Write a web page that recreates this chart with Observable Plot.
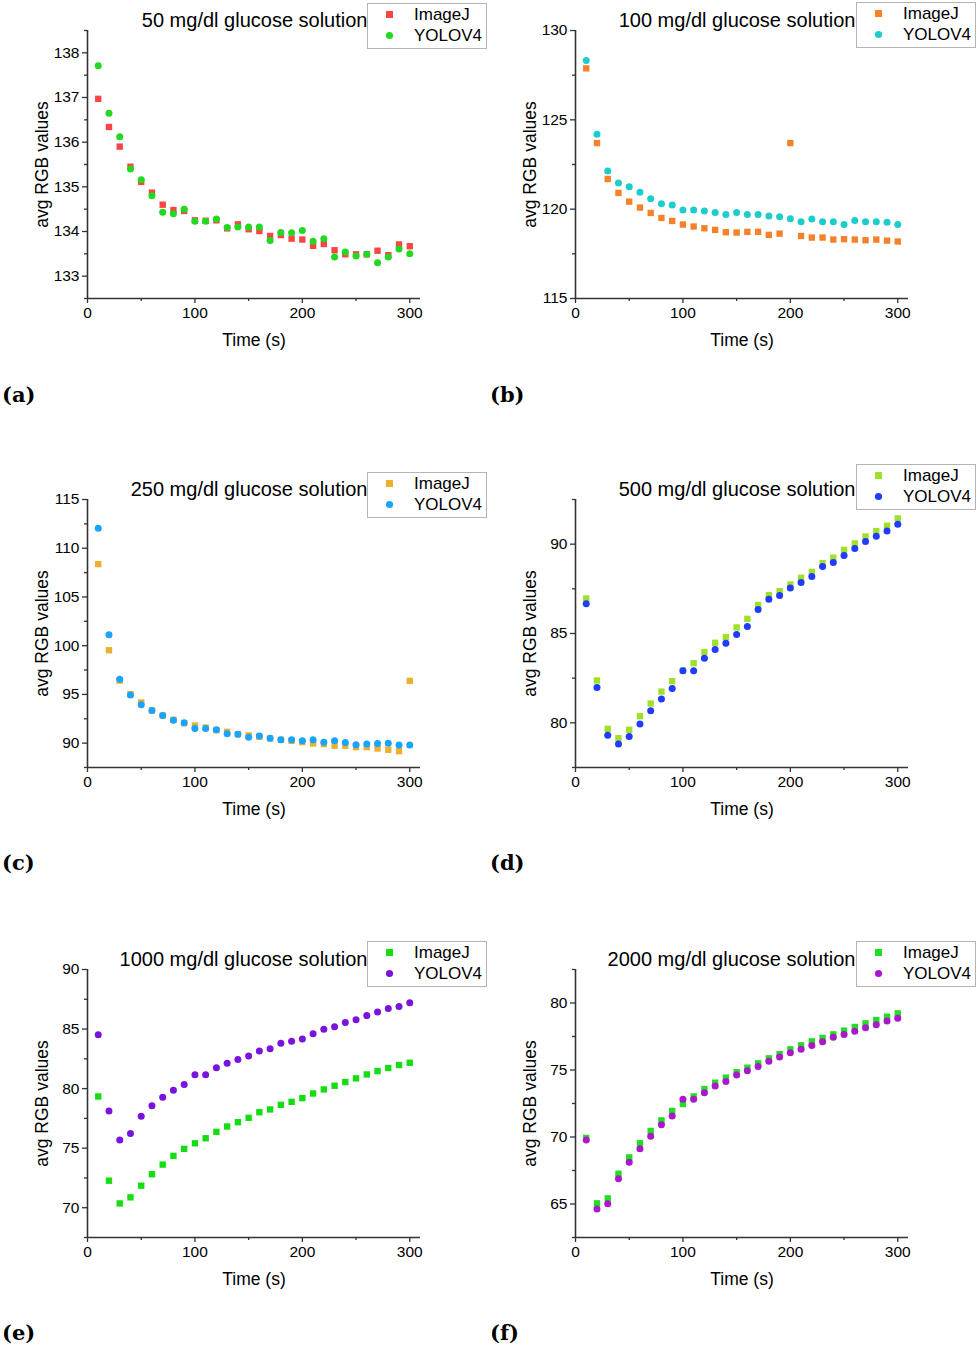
<!DOCTYPE html>
<html>
<head>
<meta charset="utf-8">
<script src="https://cdn.jsdelivr.net/npm/d3@7"></script>
<script src="https://cdn.jsdelivr.net/npm/@observablehq/plot@0.6"></script>
<style>
  html, body { margin: 0; padding: 0; background: #fff; }
  body { width: 979px; height: 1348px; position: relative; overflow: hidden; font-family: Arial, "Liberation Sans", sans-serif; }
  .panel { position: absolute; }
  .legend { position: absolute; width: 120px; height: 46px; box-sizing: border-box; border: 1.5px solid #b4b4b4; background: #fff; }
  .legend .row { position: absolute; left: 0; height: 20px; width: 118px; }
  .legend svg { position: absolute; left: 15px; top: 3px; }
  .legend span { position: absolute; left: 46px; top: 0; font-size: 17px; line-height: 20px; color: #000; }
  .lab { position: absolute; font-family: "DejaVu Serif", serif; font-weight: bold; font-size: 21px; line-height: 24px; color: #000; }
</style>
</head>
<body>
<script>
// ---------- data ----------
const time = [10,20,30,40,50,60,70,80,90,100,110,120,130,140,150,160,170,180,190,200,210,220,230,240,250,260,270,280,290,300];

const titles = ["50 mg/dl glucose solution","100 mg/dl glucose solution","250 mg/dl glucose solution","500 mg/dl glucose solution","1000 mg/dl glucose solution","2000 mg/dl glucose solution"];
const panelLabels = ["(a)","(b)","(c)","(d)","(e)","(f)"];
const seriesNames = ["ImageJ","YOLOV4"];
const xTicks = [0,100,200,300];
const xMinorTicks = [50,150,250];

const imagej50 = [136.97,136.34,135.90,135.45,135.11,134.87,134.60,134.48,134.46,134.25,134.24,134.25,134.07,134.16,134.05,134.01,133.90,133.92,133.84,133.82,133.68,133.72,133.58,133.49,133.49,133.49,133.57,133.47,133.71,133.67];
const yolo50 = [137.71,136.65,136.12,135.40,135.16,134.80,134.43,134.40,134.50,134.23,134.23,134.28,134.09,134.10,134.10,134.10,133.80,133.98,133.97,134.02,133.78,133.84,133.43,133.54,133.45,133.49,133.30,133.43,133.61,133.50];

const imagej100 = [127.88,123.70,121.69,120.91,120.42,120.09,119.79,119.51,119.34,119.14,119.03,118.93,118.84,118.71,118.69,118.73,118.73,118.56,118.63,123.70,118.50,118.41,118.41,118.30,118.32,118.30,118.26,118.30,118.24,118.19];
const yolo100 = [128.32,124.19,122.14,121.47,121.26,120.94,120.59,120.31,120.24,119.96,119.96,119.90,119.81,119.70,119.81,119.70,119.70,119.62,119.57,119.47,119.30,119.45,119.29,119.29,119.14,119.36,119.29,119.29,119.27,119.14];

const imagej250 = [108.37,99.53,96.42,95.02,94.17,93.35,92.83,92.39,92.05,91.81,91.60,91.33,91.16,90.92,90.79,90.65,90.48,90.34,90.24,90.10,89.97,89.90,89.73,89.73,89.59,89.59,89.45,89.32,89.18,96.39];
const yolo250 = [112.06,101.13,96.56,94.95,93.93,93.35,92.83,92.36,92.08,91.50,91.50,91.37,90.96,90.92,90.61,90.72,90.51,90.34,90.34,90.24,90.34,90.10,90.24,90.07,89.83,89.90,89.97,90.00,89.80,89.80];

const imagej500 = [86.96,82.37,79.66,79.14,79.61,80.37,81.08,81.75,82.33,82.93,83.34,83.96,84.48,84.79,85.34,85.82,86.60,87.15,87.37,87.74,88.12,88.45,88.94,89.24,89.68,90.04,90.43,90.73,91.03,91.44];
const yolo500 = [86.66,81.98,79.31,78.82,79.24,79.93,80.67,81.34,81.92,82.91,82.91,83.62,84.10,84.46,84.94,85.39,86.34,86.92,87.13,87.54,87.85,88.19,88.75,88.97,89.37,89.76,90.15,90.45,90.73,91.12];

const imagej1000 = [79.34,72.27,70.36,70.87,71.85,72.81,73.62,74.35,74.94,75.41,75.83,76.37,76.82,77.18,77.55,78.02,78.25,78.64,78.89,79.20,79.59,79.93,80.24,80.55,80.86,81.19,81.47,81.73,81.98,82.17];
const yolo1000 = [84.53,78.13,75.69,76.23,77.69,78.56,79.28,79.87,80.35,81.16,81.16,81.75,82.12,82.45,82.73,83.16,83.35,83.80,83.97,84.17,84.61,84.98,85.20,85.54,85.79,86.13,86.44,86.72,86.89,87.20];

const imagej2000 = [69.93,65.05,65.42,67.26,68.48,69.53,70.45,71.24,71.94,72.46,73.03,73.58,74.05,74.43,74.83,75.17,75.50,75.87,76.19,76.54,76.84,77.14,77.39,77.66,77.94,78.21,78.48,78.73,78.98,79.23];
const yolo2000 = [69.78,64.63,65.02,66.89,68.11,69.13,70.05,70.92,71.57,72.81,72.81,73.31,73.81,74.15,74.63,74.95,75.27,75.65,75.97,76.29,76.54,76.82,77.11,77.44,77.64,77.89,78.16,78.38,78.66,78.86];

const yDomains = [[132.5,138.5],[115,130],[87.5,115],[77.5,92.5],[67.5,90],[62.5,82.5]];
const yTicks = [[133,134,135,136,137,138],[115,120,125,130],[90,95,100,105,110,115],[80,85,90],[70,75,80,85,90],[65,70,75,80]];
const yMinorTicks = [[132.5,133.5,134.5,135.5,136.5,137.5,138.5],[117.5,122.5,127.5],[87.5,92.5,97.5,102.5,107.5,112.5],[77.5,82.5,87.5,92.5],[67.5,72.5,77.5,82.5,87.5],[62.5,67.5,72.5,77.5,82.5]];
const imagejColors = ["#fb4444","#f5822a","#ecb02e","#9fe02a","#14dd14","#22dd22"];
const yoloColors = ["#22d822","#1ecccc","#18a4ff","#1f3cff","#7a14dc","#aa18cc"];

const imagejSeries = [imagej50, imagej100, imagej250, imagej500, imagej1000, imagej2000];
const yoloSeries = [yolo50, yolo100, yolo250, yolo500, yolo1000, yolo2000];

// ---------- layout ----------
const W = 489, H = 360;
const colLeft = [0, 490];
const rowTop = [0, 469, 939];
const marginL = [87, 85];
const marginR = [69, 71];
const legendPos = [[367,3],[856,2],[367,472],[856,464],[367,941],[856,941]];
const labelPos = [[2,395],[490,395],[2,863],[490,863],[2,1333],[490,1333]];

const axisColor = "#333";
const fmt = d => String(d);

function rows(vals) { return time.map((t, i) => ({t, v: vals[i]})); }

for (let k = 0; k < 6; k++) {
  const col = k % 2, row = Math.floor(k / 2);
  const chart = Plot.plot({
    width: W, height: H,
    marginLeft: marginL[col], marginRight: marginR[col], marginTop: 30, marginBottom: 62,
    style: {fontFamily: "Arial, 'Liberation Sans', sans-serif", fontSize: "15.5px", color: "#000", background: "transparent", overflow: "visible"},
    x: {domain: [0, 310], label: null},
    y: {domain: yDomains[k], label: null},
    marks: [
      Plot.axisX({ticks: xTicks, tickFormat: fmt, tickSize: 5, tickPadding: 3, fontSize: 15.5, stroke: axisColor, strokeWidth: 1.3, label: null}),
      Plot.axisX({ticks: xMinorTicks, tickSize: 3, tickFormat: () => "", stroke: axisColor, strokeWidth: 1.3, label: null}),
      Plot.axisY({ticks: yTicks[k], tickFormat: fmt, tickSize: 5, tickPadding: 3, fontSize: 15.5, stroke: axisColor, strokeWidth: 1.3, label: null}),
      Plot.axisY({ticks: yMinorTicks[k], tickSize: 3, tickFormat: () => "", stroke: axisColor, strokeWidth: 1.3, label: null}),
      Plot.ruleX([0], {stroke: axisColor, strokeWidth: 1.6}),
      Plot.ruleY([yDomains[k][0]], {stroke: axisColor, strokeWidth: 1.6}),
      Plot.dot(rows(imagejSeries[k]), {x: "t", y: "v", symbol: "square", r: 3.6, fill: imagejColors[k], stroke: "none"}),
      Plot.dot(rows(yoloSeries[k]), {x: "t", y: "v", symbol: "circle", r: 3.5, fill: yoloColors[k], stroke: "none"}),
      Plot.text([titles[k]], {frameAnchor: "top-left", dx: 280, dy: -10, textAnchor: "end", lineAnchor: "middle", fontSize: 20, fill: "#000"}),
      Plot.text(["Time (s)"], {frameAnchor: "bottom", dy: 42, textAnchor: "middle", lineAnchor: "middle", fontSize: 17.5, fill: "#000"}),
      Plot.text(["avg RGB values"], {frameAnchor: "left", dx: -45, rotate: -90, textAnchor: "middle", lineAnchor: "middle", fontSize: 17.5, fill: "#000"})
    ]
  });
  const wrap = document.createElement("div");
  wrap.className = "panel";
  wrap.style.left = colLeft[col] + "px";
  wrap.style.top = rowTop[row] + "px";
  wrap.appendChild(chart);
  document.body.appendChild(wrap);

  // legend
  const lg = document.createElement("div");
  lg.className = "legend";
  lg.style.left = legendPos[k][0] + "px";
  lg.style.top = legendPos[k][1] + "px";
  const items = [
    {name: seriesNames[0], color: imagejColors[k], sym: "square", top: 1},
    {name: seriesNames[1], color: yoloColors[k], sym: "circle", top: 22}
  ];
  for (const it of items) {
    const r = document.createElement("div");
    r.className = "row";
    r.style.top = it.top + "px";
    const shape = it.sym === "square"
      ? `<rect x="3" y="3" width="7" height="7" fill="${it.color}"/>`
      : `<circle cx="6.5" cy="6.5" r="3.6" fill="${it.color}"/>`;
    r.innerHTML = `<svg width="13" height="13">${shape}</svg><span>${it.name}</span>`;
    lg.appendChild(r);
  }
  document.body.appendChild(lg);

  // panel label
  const lb = document.createElement("div");
  lb.className = "lab";
  lb.textContent = panelLabels[k];
  lb.style.left = labelPos[k][0] + "px";
  lb.style.top = (labelPos[k][1] - 12) + "px";
  document.body.appendChild(lb);
}
</script>
</body>
</html>
